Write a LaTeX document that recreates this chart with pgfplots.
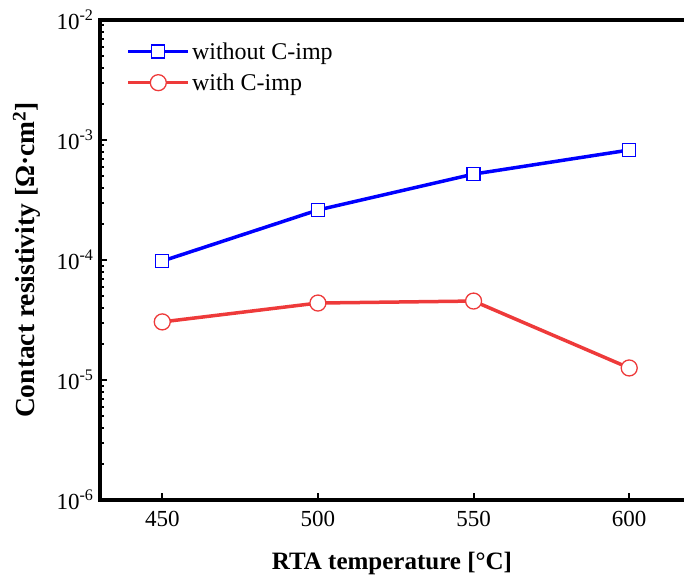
\documentclass[border=0pt]{standalone}
\usepackage{pgfplots}
\pgfplotsset{compat=1.18}
\usepackage{fontspec}
\setmainfont{Liberation Serif}
\usetikzlibrary{calc}
\definecolor{myblue}{RGB}{0,0,255}
\definecolor{myred}{RGB}{238,58,58}
\begin{document}
\begin{tikzpicture}
\begin{axis}[
  scale only axis, width=584pt, height=480pt,
  xmin=430, xmax=617.6,
  ymode=log, ymin=1e-6, ymax=1e-2,
  axis line style={draw=none},
  xtick={450,500,550,600},
  xtick pos=bottom, ytick pos=left,
  ytick={1e-6,1e-5,1e-4,1e-3,1e-2},
  yticklabels={10\textsuperscript{-6},10\textsuperscript{-5},10\textsuperscript{-4},10\textsuperscript{-3},10\textsuperscript{-2}},
  /pgf/number format/assume math mode=true,
  xticklabel style={font=\fontsize{23}{27}\selectfont, yshift=-8pt},
  yticklabel style={font=\fontsize{23}{27}\selectfont, xshift=-3pt},
  tick align=inside,
  major tick length=7pt, minor tick length=4pt,
  every tick/.style={black, line width=2pt},
  xlabel={\textbf{RTA temperature [°C]}},
  ylabel={\textbf{Contact resistivity [Ω·cm\textsuperscript{2}]}},
  xlabel style={font=\fontsize{25}{29}\selectfont, yshift=-18pt},
  ylabel style={font=\fontsize{27.5}{31}\selectfont, yshift=9pt},
  legend style={draw=none, fill=none, at={(rel axis cs:0.04,0.962)}, anchor=north west,
    font=\fontsize{24}{28}\selectfont, row sep=9pt},
  legend cell align=left,
  legend image code/.code={\draw[mark repeat=2,mark phase=2] plot coordinates {(0pt,0pt) (30pt,0pt) (60pt,0pt)};},
  clip=false,
]
\addplot[myblue, line width=3.5pt, mark=square*, mark size=6.5pt, mark options={line width=1.3pt, fill=white, solid}]
  coordinates {(450,9.8e-5) (500,2.61e-4) (550,5.2e-4) (600,8.25e-4)};
\addlegendentry{without C-imp}
\addplot[myred, line width=3.5pt, mark=*, mark size=8pt, mark options={line width=1.3pt, fill=white, draw=myred, solid}]
  coordinates {(450,3.05e-5) (500,4.38e-5) (550,4.55e-5) (600,1.26e-5)};
\addlegendentry{with C-imp}
\draw[line width=3.2pt, line cap=rect] (rel axis cs:0,1) -- (rel axis cs:0,0) -- (rel axis cs:1,0);
\draw[line width=3.2pt] (rel axis cs:0,1) -- (rel axis cs:1,1);
\end{axis}
\pgfresetboundingbox
\path ($(current axis.south west)+(-100pt,-83pt)$) rectangle ($(current axis.north east)+(0pt,20pt)$);
\end{tikzpicture}
\end{document}
